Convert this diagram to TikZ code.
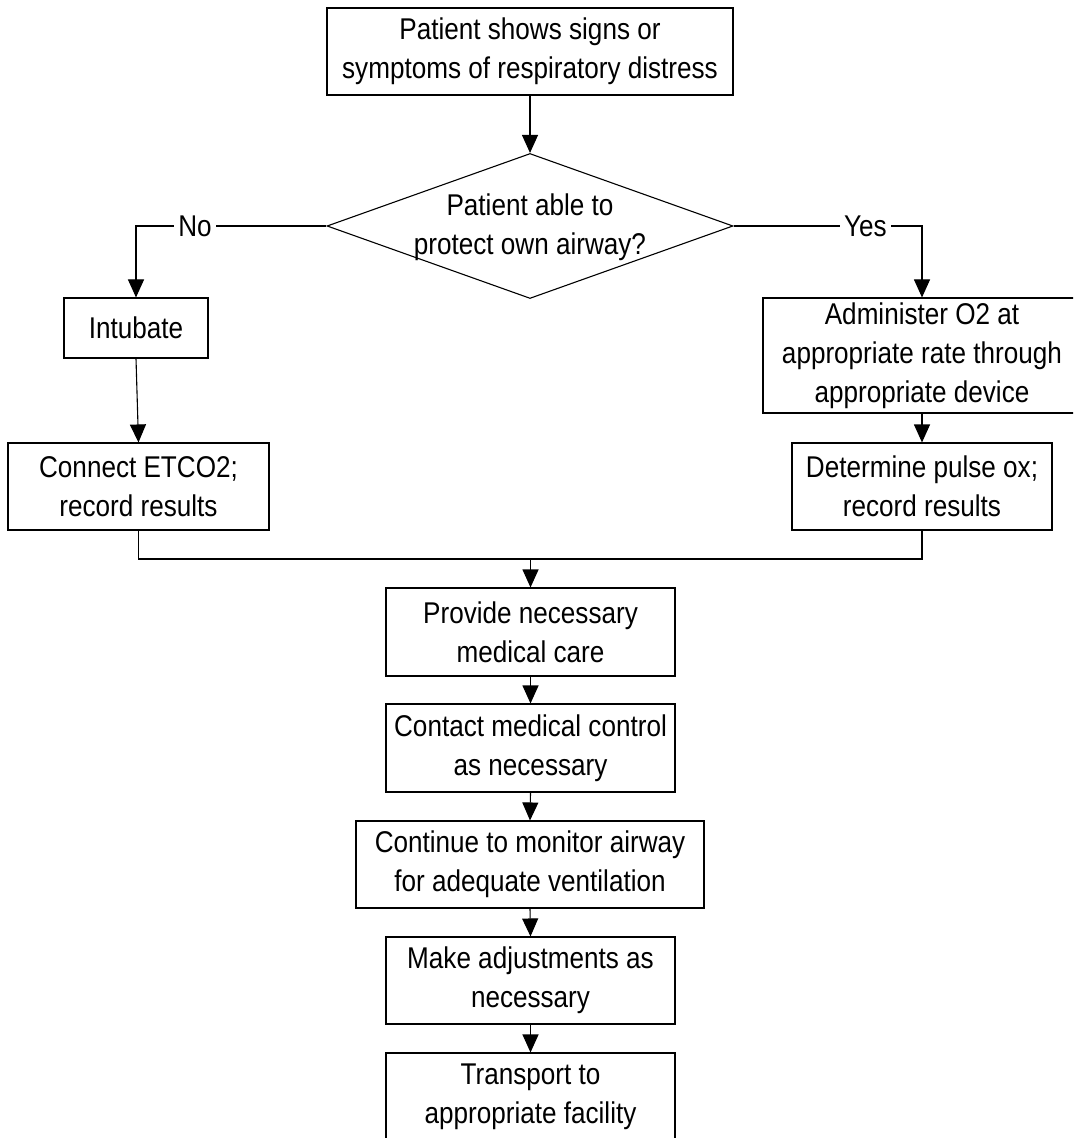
\documentclass[tikz,border=0pt]{standalone}
\usepackage{fontspec}
\setmainfont[FakeStretch=0.87]{Liberation Sans}
\usetikzlibrary{shapes.geometric,arrows.meta}
\begin{document}
\begin{tikzpicture}[x={(0.5pt,0)},y={(0,-0.5pt)},
  font=\fontsize{15pt}{19.5pt}\selectfont,
  line width=0.55pt,
  box/.style={draw, rectangle, inner sep=0pt, align=center},
  arr/.style={-{Triangle[width=8pt,length=9pt]}},
  lbl/.style={fill=white, inner sep=2pt}]
\clip (0,0) rectangle (1073,1138);
\fill[white] (0,0) rectangle (1073,1138);
\node[box, minimum width=203pt, minimum height=43.5pt] (top) at (530,51.5)
  {Patient shows signs or\\symptoms of respiratory distress};
\node[draw, diamond, minimum width=203pt, minimum height=72.5pt, inner sep=0pt] (dec) at (530,226) {};
\node[align=center, inner sep=0pt] (dectxt) at (530,227.5) {Patient able to\\protect own airway?};
\node[box, minimum width=72pt, minimum height=30pt] (intub) at (136,328) {Intubate};
\node[box, minimum width=130.5pt, minimum height=43.5pt] (conn) at (138.5,486.5)
  {Connect ETCO2;\\record results};
\node[box, minimum width=159pt, minimum height=57.5pt] (admin) at (922,355.5)
  {Administer O2 at\\appropriate rate through\\appropriate device};
\node[box, minimum width=130pt, minimum height=43.5pt] (det) at (922,486.5)
  {Determine pulse ox;\\record results};
\node[box, minimum width=144.5pt, minimum height=44pt] (prov) at (530.5,632)
  {Provide necessary\\medical care};
\node[box, minimum width=144.5pt, minimum height=44pt] (cont) at (530.5,748)
  {Contact medical control\\as necessary};
\node[box, minimum width=174pt, minimum height=43.5pt] (mon) at (530,864.5)
  {Continue to monitor airway\\for adequate ventilation};
\node[box, minimum width=144.5pt, minimum height=43.5pt] (make) at (530.5,980.5)
  {Make adjustments as\\necessary};
\node[box, minimum width=144.5pt, minimum height=44pt] (trans) at (530.5,1097)
  {Transport to\\appropriate facility};
\coordinate (m) at (530.5,559);
\draw[arr] (top.south) -- (dec.north);
\draw[arr] (dec.west) -| node[lbl, pos=0.345] {No} (intub.north);
\draw[arr] (dec.east) -| node[lbl, pos=0.35] {Yes} (admin.north);
\draw[arr] (intub.south) -- (conn.north);
\draw[arr] (admin.south) -- (det.north);
\draw (conn.south) |- (m) -| (det.south);
\draw[arr] (m) -- (prov.north);
\draw[arr] (prov.south) -- (cont.north);
\draw[arr] (cont.south) -- (mon.north);
\draw[arr] (mon.south) -- (make.north);
\draw[arr] (make.south) -- (trans.north);
\end{tikzpicture}
\end{document}
